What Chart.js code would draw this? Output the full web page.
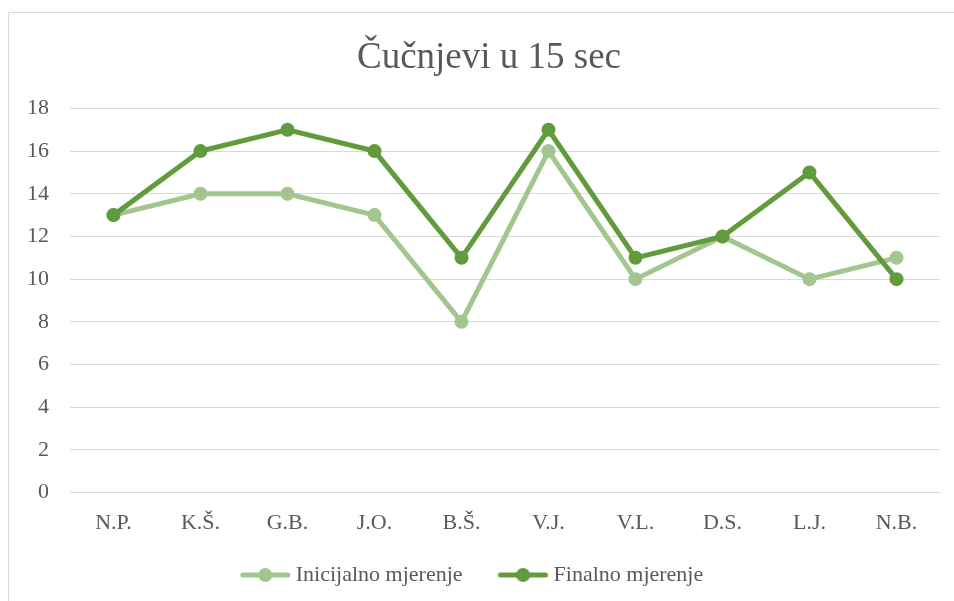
<!DOCTYPE html>
<html>
<head>
<meta charset="utf-8">
<script src="https://cdn.jsdelivr.net/npm/chart.js@4/dist/chart.umd.min.js"></script>
<style>
html,body{margin:0;padding:0;background:#fff;}
#wrap{width:954px;height:601px;position:relative;}
</style>
</head>
<body>
<div id="wrap"><canvas id="c" width="954" height="601"></canvas></div>
<script>
const titleText = "Čučnjevi u 15 sec";
const categories = ["N.P.", "K.Š.", "G.B.", "J.O.", "B.Š.", "V.J.", "V.L.", "D.S.", "L.J.", "N.B."];
const inicijalno = [13, 14, 14, 13, 8, 16, 10, 12, 10, 11];
const finalno = [13, 16, 17, 16, 11, 17, 11, 12, 15, 10];
const seriesNames = ["Inicijalno mjerenje", "Finalno mjerenje"];
const yMin = 0, yMax = 18, yStep = 2;

const lightGreen = "#a3c68e";
const darkGreen = "#619b3d";
const textColor = "#595959";
const gridColor = "#d9d9d9";
const fontFamily = "'Liberation Serif', 'Times New Roman', serif";

// legend marker image: line with a dot, placed at the right of a 70px wide image
function legendMarker(color) {
  const cv = document.createElement('canvas');
  cv.width = 70; cv.height = 16;
  const g = cv.getContext('2d');
  const x0 = 70 - 53;
  g.strokeStyle = color; g.lineWidth = 5; g.lineCap = 'round';
  g.beginPath(); g.moveTo(x0 + 3, 8); g.lineTo(x0 + 48, 8); g.stroke();
  g.fillStyle = color;
  g.beginPath(); g.arc(x0 + 25.5, 8, 7, 0, Math.PI * 2); g.fill();
  return cv;
}
const markers = [legendMarker(lightGreen), legendMarker(darkGreen)];

const borderPlugin = {
  id: 'outerBorder',
  beforeDraw(chart) {
    const ctx = chart.ctx;
    ctx.save();
    ctx.strokeStyle = gridColor;
    ctx.lineWidth = 1;
    ctx.strokeRect(8.5, 12.5, 960, 600);
    ctx.restore();
  }
};

const shiftPlugin = {
  id: 'shiftBoxes',
  afterLayout(chart) {
    if (chart.titleBlock) { chart.titleBlock.left += 19; chart.titleBlock.right += 19; }
    if (chart.legend) { chart.legend.top -= 15; chart.legend.bottom -= 15; chart.legend.left -= 3; chart.legend.right -= 3; }
  }
};

new Chart(document.getElementById('c'), {
  type: 'line',
  data: {
    labels: categories,
    datasets: [
      {
        label: seriesNames[0], data: inicijalno,
        borderColor: lightGreen, backgroundColor: lightGreen,
        borderWidth: 5, pointRadius: 7, pointHoverRadius: 7,
        pointBorderWidth: 0, tension: 0, order: 2
      },
      {
        label: seriesNames[1], data: finalno,
        borderColor: darkGreen, backgroundColor: darkGreen,
        borderWidth: 5, pointRadius: 7, pointHoverRadius: 7,
        pointBorderWidth: 0, tension: 0, order: 1
      }
    ]
  },
  options: {
    responsive: false,
    animation: false,
    events: [],
    layout: { padding: { left: 0, right: 14, top: 0, bottom: -10 } },
    plugins: {
      title: {
        display: true, text: titleText, color: textColor,
        font: { family: fontFamily, size: 37, weight: 'normal' },
        padding: { top: 36, bottom: 28 }
      },
      legend: {
        position: 'bottom',
        labels: {
          color: textColor,
          font: { family: fontFamily, size: 22 },
          usePointStyle: true,
          pointStyleWidth: 54,
          padding: 26,
          generateLabels(chart) {
            return chart.data.datasets.map((ds, i) => ({
              text: ds.label, fillStyle: ds.borderColor, strokeStyle: ds.borderColor,
              lineWidth: 0, pointStyle: markers[i], datasetIndex: i, hidden: false,
              fontColor: textColor
            }));
          }
        }
      },
      tooltip: { enabled: false }
    },
    scales: {
      x: {
        offset: true,
        grid: { display: false, drawTicks: false },
        border: { display: true, color: gridColor, width: 1 },
        ticks: { color: textColor, font: { family: fontFamily, size: 22 }, padding: 17, maxRotation: 0 }
      },
      y: {
        min: yMin, max: yMax,
        afterFit(scale) { scale.width = 70; },
        grid: { color: gridColor, lineWidth: 1, drawTicks: false },
        border: { display: false },
        ticks: { stepSize: yStep, color: textColor, font: { family: fontFamily, size: 22 }, padding: 21 }
      }
    }
  },
  plugins: [borderPlugin, shiftPlugin]
});
</script>
</body>
</html>
